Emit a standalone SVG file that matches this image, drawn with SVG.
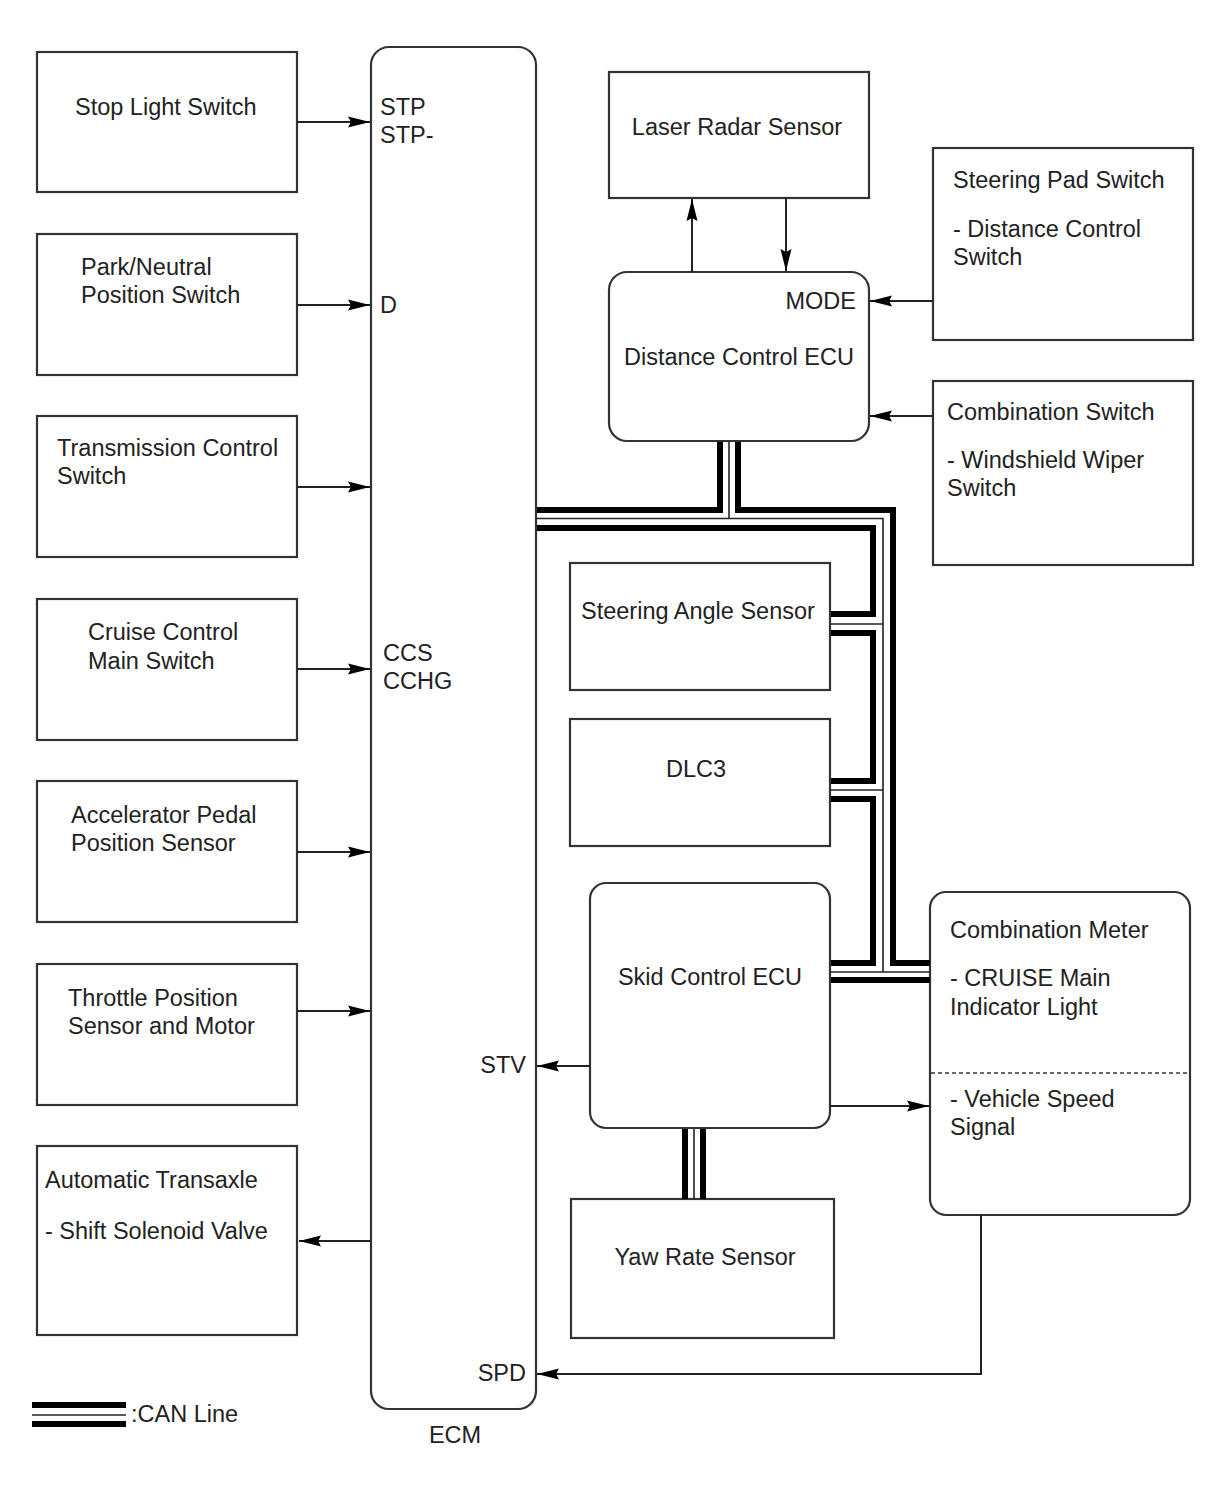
<svg xmlns="http://www.w3.org/2000/svg" width="1210" height="1498" viewBox="0 0 1210 1498">
<defs>
<style>
.box{fill:#fff;stroke:#333;stroke-width:2.2}
.t{font-family:"Liberation Sans",Arial,sans-serif;font-size:23.5px;fill:#222}
.e{text-anchor:end}
.m{text-anchor:middle}
.ln{fill:none;stroke:#222;stroke-width:2}
.ck{fill:none;stroke:#000;stroke-width:6;stroke-linejoin:miter}
.cn{fill:none;stroke:#222;stroke-width:1.6}
</style>
<marker id="ah" markerWidth="22" markerHeight="12" refX="22" refY="6" orient="auto" markerUnits="userSpaceOnUse">
<path d="M0,0.5 L22,6 L0,11.5 L3,6 z" fill="#000"/>
</marker>
</defs>
<rect width="1210" height="1498" fill="#fff"/>

<g id="stop-light-switch"><rect class="box" x="37" y="52" width="260" height="140"/><text class="t" x="75" y="115">Stop Light Switch</text></g>
<g id="park-neutral"><rect class="box" x="37" y="234" width="260" height="141"/><text class="t" x="81" y="275">Park/Neutral</text><text class="t" x="81" y="303">Position Switch</text></g>
<g id="transmission-control"><rect class="box" x="37" y="416" width="260" height="141"/><text class="t" x="57" y="456">Transmission Control</text><text class="t" x="57" y="484">Switch</text></g>
<g id="cruise-main"><rect class="box" x="37" y="599" width="260" height="141"/><text class="t" x="88" y="640">Cruise Control</text><text class="t" x="88" y="669">Main Switch</text></g>
<g id="accelerator"><rect class="box" x="37" y="781" width="260" height="141"/><text class="t" x="71" y="823">Accelerator Pedal</text><text class="t" x="71" y="851">Position Sensor</text></g>
<g id="throttle"><rect class="box" x="37" y="964" width="260" height="141"/><text class="t" x="68" y="1006">Throttle Position</text><text class="t" x="68" y="1034">Sensor and Motor</text></g>
<g id="transaxle"><rect class="box" x="37" y="1146" width="260" height="189"/><text class="t" x="45" y="1188">Automatic Transaxle</text><text class="t" x="45" y="1239">- Shift Solenoid Valve</text></g>

<g id="ecm"><rect class="box" x="371" y="47" width="165" height="1362" rx="18"/>
<text class="t" x="380" y="115">STP</text><text class="t" x="380" y="143">STP-</text>
<text class="t" x="380" y="313">D</text>
<text class="t" x="383" y="661">CCS</text><text class="t" x="383" y="689">CCHG</text>
<text class="t e" x="526" y="1073">STV</text>
<text class="t e" x="526" y="1381">SPD</text>
<text class="t m" x="455" y="1443">ECM</text></g>

<g id="laser-radar"><rect class="box" x="609" y="72" width="260" height="126"/><text class="t m" x="737" y="135">Laser Radar Sensor</text></g>
<g id="distance-ecu"><rect class="box" x="609" y="272" width="260" height="169" rx="18"/><text class="t e" x="856" y="309">MODE</text><text class="t" x="624" y="365">Distance Control ECU</text></g>
<g id="steering-pad"><rect class="box" x="933" y="148" width="260" height="192"/><text class="t" x="953" y="188">Steering Pad Switch</text><text class="t" x="953" y="237">- Distance Control</text><text class="t" x="953" y="265">Switch</text></g>
<g id="combination-switch"><rect class="box" x="933" y="381" width="260" height="184"/><text class="t" x="947" y="420">Combination Switch</text><text class="t" x="947" y="468">- Windshield Wiper</text><text class="t" x="947" y="496">Switch</text></g>
<g id="steering-angle"><rect class="box" x="570" y="563" width="260" height="127"/><text class="t" x="581" y="619">Steering Angle Sensor</text></g>
<g id="dlc3"><rect class="box" x="570" y="719" width="260" height="127"/><text class="t" x="666" y="777">DLC3</text></g>
<g id="skid-ecu"><rect class="box" x="590" y="883" width="240" height="245" rx="16"/><text class="t m" x="710" y="985">Skid Control ECU</text></g>
<g id="yaw-rate"><rect class="box" x="571" y="1199" width="263" height="139"/><text class="t m" x="705" y="1265">Yaw Rate Sensor</text></g>
<g id="combination-meter"><rect class="box" x="930" y="892" width="260" height="323" rx="16"/>
<text class="t" x="950" y="938">Combination Meter</text><text class="t" x="950" y="986">- CRUISE Main</text><text class="t" x="950" y="1015">Indicator Light</text>
<line x1="931" y1="1073" x2="1189" y2="1073" stroke="#333" stroke-width="1.5" stroke-dasharray="4,3"/>
<text class="t" x="950" y="1107">- Vehicle Speed</text><text class="t" x="950" y="1135">Signal</text></g>

<g id="connectors">
<line class="ln" x1="297" y1="122" x2="370" y2="122" marker-end="url(#ah)"/>
<line class="ln" x1="297" y1="305" x2="370" y2="305" marker-end="url(#ah)"/>
<line class="ln" x1="297" y1="487" x2="370" y2="487" marker-end="url(#ah)"/>
<line class="ln" x1="297" y1="669" x2="370" y2="669" marker-end="url(#ah)"/>
<line class="ln" x1="297" y1="852" x2="370" y2="852" marker-end="url(#ah)"/>
<line class="ln" x1="297" y1="1011" x2="370" y2="1011" marker-end="url(#ah)"/>
<line class="ln" x1="371" y1="1241" x2="299" y2="1241" marker-end="url(#ah)"/>
<line class="ln" x1="692" y1="272" x2="692" y2="199" marker-end="url(#ah)"/>
<line class="ln" x1="786" y1="198" x2="786" y2="271" marker-end="url(#ah)"/>
<line class="ln" x1="933" y1="301" x2="870" y2="301" marker-end="url(#ah)"/>
<line class="ln" x1="933" y1="416" x2="870" y2="416" marker-end="url(#ah)"/>
<line class="ln" x1="590" y1="1066" x2="537" y2="1066" marker-end="url(#ah)"/>
<line class="ln" x1="830" y1="1106" x2="929" y2="1106" marker-end="url(#ah)"/>
<polyline class="ln" points="981,1215 981,1374 537,1374" marker-end="url(#ah)"/>
</g>

<g id="can-line">
<polyline class="cn" points="536,518.5 883,518.5 883,972"/>
<line class="cn" x1="729" y1="442" x2="729" y2="518.5"/>
<line class="cn" x1="830" y1="624" x2="883" y2="624"/>
<line class="cn" x1="830" y1="790" x2="883" y2="790"/>
<line class="cn" x1="830" y1="972" x2="930" y2="972"/>
<polyline class="ck" points="537,510 720,510 720,442"/>
<polyline class="ck" points="738,442 738,510 893,510 893,963 930,963"/>
<polyline class="ck" points="537,528 873,528 873,614 831,614"/>
<polyline class="ck" points="831,633 873,633 873,781 831,781"/>
<polyline class="ck" points="831,799 873,799 873,963 831,963"/>
<line class="ck" x1="831" y1="980" x2="930" y2="980"/>
<line class="ck" x1="685" y1="1129" x2="685" y2="1199"/>
<line class="cn" x1="694" y1="1129" x2="694" y2="1199"/>
<line class="ck" x1="703" y1="1129" x2="703" y2="1199"/>
</g>

<g id="legend">
<line class="ck" x1="32" y1="1405" x2="126" y2="1405"/>
<line class="cn" x1="32" y1="1415" x2="126" y2="1415"/>
<line class="ck" x1="32" y1="1424" x2="126" y2="1424"/>
<text class="t" x="131" y="1422">:CAN Line</text>
</g>
</svg>
